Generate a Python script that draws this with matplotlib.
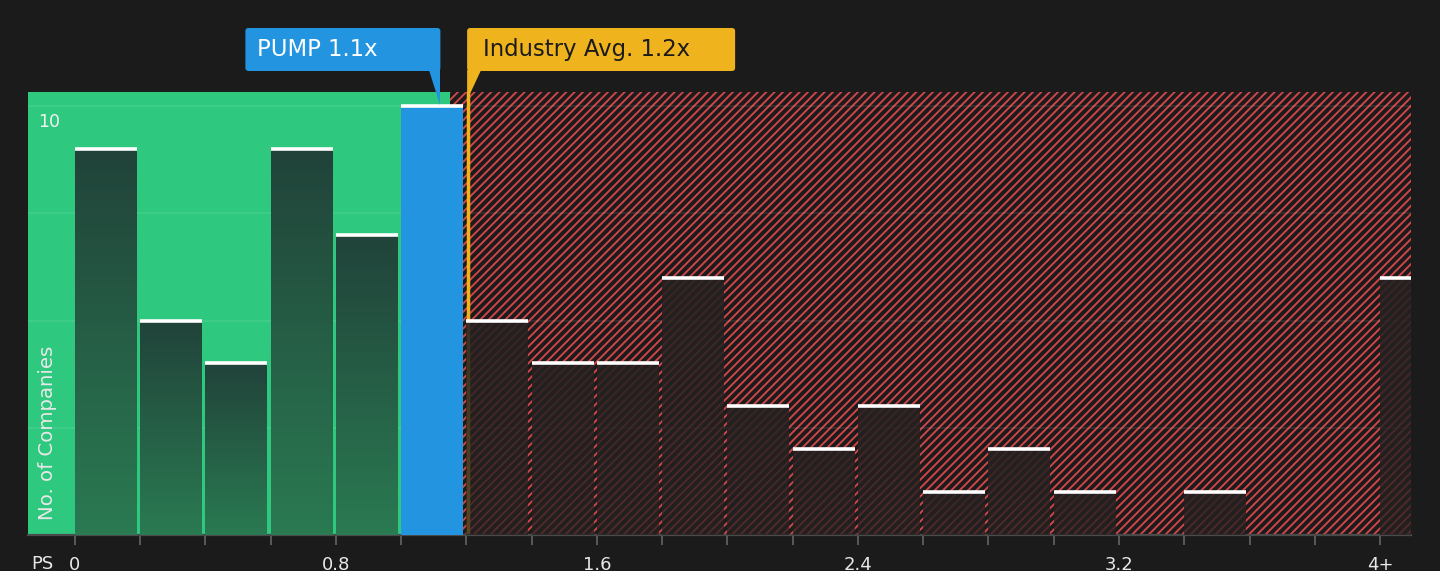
import numpy as np
import matplotlib
matplotlib.use("Agg")
import matplotlib.pyplot as plt
import matplotlib.transforms as mtransforms
from matplotlib.patches import FancyBboxPatch, Polygon, Rectangle

# histogram of PS ratios, bins of 0.2, last bin is "4+"
bin_starts = [0.0, 0.2, 0.4, 0.6, 0.8, 1.0, 1.2, 1.4, 1.6, 1.8, 2.0,
              2.2, 2.4, 2.6, 2.8, 3.0, 3.2, 3.4, 3.6, 3.8, 4.0]
counts = [9, 5, 4, 9, 7, 10, 5, 4, 4, 6, 3, 2, 3, 1, 2, 1, 0, 1, 0, 0, 6]
company = "PUMP"
company_ps = 1.12
industry_ps = 1.205
tick_vals = [0, 0.8, 1.6, 2.4, 3.2, 4.0]
tick_labels = ["0", "0.8", "1.6", "2.4", "3.2", "4+"]

BG = "#1b1b1b"
GREEN = "#2ec97f"
BLUE = "#2394e0"
GOLD = "#efb31d"
RED = "#cf4548"

W, H = 1440, 571
fig = plt.figure(figsize=(W / 100, H / 100), dpi=100, facecolor=BG)
ax = fig.add_axes([28 / W, (H - 535) / H, (1411 - 28) / W, (535 - 92) / H])
ax.set_facecolor(BG)

xmin, xmax = -0.144, 4.095
ymax = 10.33
green_end = 1.15

plt.rcParams["hatch.linewidth"] = 1.4
ax.axvspan(xmin, green_end, color=GREEN, lw=0, zorder=0)
ax.add_patch(Rectangle((green_end, 0), xmax - green_end + 0.5, ymax, facecolor=BG,
                       edgecolor=RED, hatch="////", lw=0, zorder=0))

for gy in [2.5, 5, 7.5, 10]:
    ax.axhline(gy, color="white", alpha=0.09, lw=1.2, zorder=1)

# industry average line (behind bars)
ax.axvline(industry_ps, color=GOLD, lw=2.5, zorder=2)

green_grad = matplotlib.colors.LinearSegmentedColormap.from_list(
    "g", ["#2a7a52", "#21433a"])
bw = 0.19
for x0, c in zip(bin_starts, counts):
    if c == 0:
        continue
    x1 = x0 + bw
    if x0 <= company_ps < x0 + 0.2:
        ax.add_patch(Rectangle((x0, 0), bw, c, facecolor=BLUE, lw=0, zorder=3))
    elif x1 <= green_end:
        grad = np.linspace(0, 1, 100).reshape(-1, 1)
        ax.imshow(grad, extent=[x0, x1, 0, c], origin="lower", aspect="auto",
                  cmap=green_grad, zorder=3, interpolation="bicubic")
    else:
        rgba = np.zeros((100, 1, 4))
        rgba[:, 0, :3] = np.array([38, 33, 33]) / 255
        rgba[:, 0, 3] = np.linspace(0.74, 0.9, 100)
        ax.imshow(rgba, extent=[x0, x1, 0, c], origin="lower", aspect="auto",
                  zorder=3, interpolation="bicubic")
    ax.plot([x0, x1], [c, c], color="white", lw=2.6, zorder=4,
            solid_capstyle="butt")

ax.set_xlim(xmin, xmax)
ax.set_ylim(0, ymax)

ticks = [round(b, 1) for b in bin_starts]
ax.set_xticks(ticks)
ax.set_xticklabels([tick_labels[tick_vals.index(b)] if b in tick_vals else ""
                    for b in ticks])
ax.tick_params(axis="x", colors="#5a5a5a", length=7, width=1.4, pad=8,
               labelcolor="#e8e8e8", labelsize=13)
ax.set_yticks([])
for s in ["left", "right", "top"]:
    ax.spines[s].set_visible(False)
ax.spines["bottom"].set_color("#4a4a4a")
ax.spines["bottom"].set_linewidth(1.6)

ax.text(10 / 1383, 9.83, "10", transform=mtransforms.blended_transform_factory(
    ax.transAxes, ax.transData), color="#f2f2f2", fontsize=12.5, va="top",
    ha="left", zorder=5)
ax.text(20 / 1383, 15 / 443, "No. of Companies", transform=ax.transAxes,
        rotation=90, color="#e8e8e8", fontsize=14.2, ha="center", va="bottom",
        zorder=5)
fig.text(42 / W, (H - 564) / H, "PS", color="#e8e8e8", fontsize=13,
         ha="center", va="center")

# callout boxes (pixel coordinates, origin bottom-left)
ident = mtransforms.IdentityTransform()
px_pump = ax.transData.transform((company_ps, 0))[0]
px_ind = ax.transData.transform((industry_ps, 0))[0]
px_top10 = ax.transData.transform((0, 10))[1]
box_top, box_bot = H - 28, H - 71

fig.add_artist(FancyBboxPatch((px_pump - 195, box_bot), 195, box_top - box_bot,
                              boxstyle="round,pad=0,rounding_size=3",
                              facecolor=BLUE, lw=0, transform=ident))
fig.add_artist(Polygon([(px_pump - 11, box_bot + 1), (px_pump, box_bot + 1),
                        (px_pump, px_top10 + 1)], closed=True, facecolor=BLUE,
                       lw=0, transform=ident))
fig.text(px_pump - 183, (box_top + box_bot) / 2,
         f"{company} {company_ps:.1f}x", transform=ident, color="white",
         fontsize=16.4, ha="left", va="center")

fig.add_artist(FancyBboxPatch((px_ind - 1, box_bot), 268, box_top - box_bot,
                              boxstyle="round,pad=0,rounding_size=3",
                              facecolor=GOLD, lw=0, transform=ident))
fig.add_artist(Polygon([(px_ind - 1, box_bot + 1), (px_ind + 13, box_bot + 1),
                        (px_ind - 1, box_bot - 29)], closed=True, facecolor=GOLD,
                       lw=0, transform=ident))
fig.text(px_ind + 15, (box_top + box_bot) / 2,
         f"Industry Avg. {industry_ps:.1f}x", transform=ident, color="#1b1b1b",
         fontsize=16.4, ha="left", va="center")

fig.savefig("out.png", dpi=100, facecolor=BG)
